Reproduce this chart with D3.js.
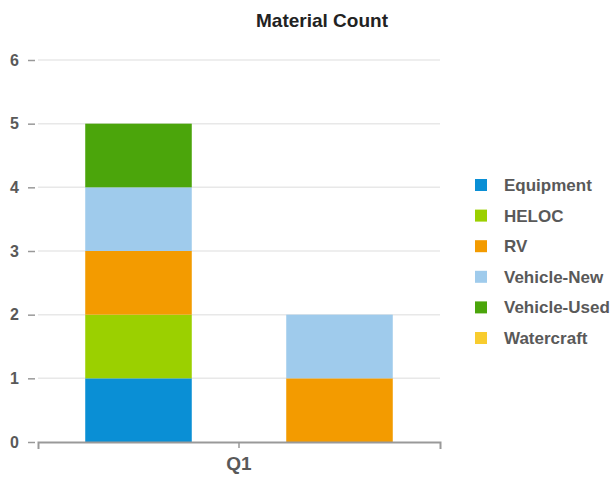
<!DOCTYPE html>
<html>
<head>
<meta charset="utf-8">
<script src="https://cdn.jsdelivr.net/npm/d3@7.9.0/dist/d3.min.js"></script>
<style>
  body { margin: 0; background: #fff; }
  text { font-family: "Liberation Sans", Arial, sans-serif; font-weight: bold; }
  .grid line { stroke: #e8e8e8; stroke-width: 1.5; }
</style>
</head>
<body>
<svg id="chart" width="616" height="480"></svg>
<script>
// categories
const groups = ["Q1"];
const stacks = ["Stack 1", "Stack 2"];
const seriesNames = ["Equipment", "HELOC", "RV", "Vehicle-New", "Vehicle-Used", "Watercraft"];
const seriesColors = ["#0a8fd5", "#9bd000", "#f39b00", "#9fcbec", "#4ba50b", "#f8cc2e"];

// values per series, one per stack
const equipment = [1, 0];
const heloc = [1, 0];
const rv = [1, 1];
const vehicleNew = [1, 1];
const vehicleUsed = [1, 0];
const watercraft = [0, 0];
const yTicks = [0, 1, 2, 3, 4, 5, 6];

const seriesValues = [equipment, heloc, rv, vehicleNew, vehicleUsed, watercraft];

const table = stacks.map((s, i) => {
  const row = { stack: s };
  seriesNames.forEach((n, j) => { row[n] = seriesValues[j][i]; });
  return row;
});

const svg = d3.select("#chart");
const plotLeft = 38, plotRight = 440, plotTop = 60, plotBottom = 442;

const y = d3.scaleLinear().domain([0, 6]).range([plotBottom, plotTop]);
const xGroup = d3.scaleBand().domain(groups).range([plotLeft, plotRight]);
const xStack = d3.scaleBand().domain(stacks).range([plotLeft, plotRight])
  .paddingInner(0.47).paddingOuter(0.235);

// title
svg.append("text")
  .attr("x", 322).attr("y", 27)
  .attr("text-anchor", "middle")
  .attr("font-size", "19px")
  .attr("fill", "#222")
  .text("Material Count");

// gridlines
svg.append("g").attr("class", "grid")
  .selectAll("line")
  .data(yTicks.filter(d => d > 0))
  .join("line")
  .attr("x1", plotLeft).attr("x2", plotRight)
  .attr("y1", d => y(d)).attr("y2", d => y(d));

// y axis: tick marks and labels, no domain line
const yAxis = svg.append("g")
  .attr("transform", `translate(${plotLeft - 3},0)`)
  .call(d3.axisLeft(y).tickValues(yTicks).tickSize(7).tickPadding(9).tickFormat(d3.format("d")));
yAxis.select(".domain").remove();
yAxis.selectAll(".tick line").attr("stroke", "#999").attr("stroke-width", 1.5);
yAxis.selectAll(".tick text")
  .attr("font-size", "16px")
  .attr("fill", "#595959")
  .attr("font-family", "'Liberation Sans', Arial, sans-serif")
  .attr("font-weight", "bold");

// stacked bars
const stacked = d3.stack().keys(seriesNames)(table);
svg.append("g")
  .selectAll("g")
  .data(stacked)
  .join("g")
  .attr("fill", (d, i) => seriesColors[i])
  .selectAll("rect")
  .data(d => d.filter(p => p[1] > p[0]))
  .join("rect")
  .attr("x", d => xStack(d.data.stack))
  .attr("width", xStack.bandwidth())
  .attr("y", d => y(d[1]))
  .attr("height", d => y(d[0]) - y(d[1]));

// x axis
const xAxis = svg.append("g")
  .attr("transform", `translate(0,${plotBottom})`)
  .call(d3.axisBottom(xGroup).tickSize(6).tickSizeOuter(7).tickPadding(9));
xAxis.select(".domain").attr("stroke", "#999").attr("stroke-width", 2);
xAxis.selectAll(".tick line").attr("stroke", "#999").attr("stroke-width", 1.5);
xAxis.selectAll(".tick text")
  .attr("font-size", "19px")
  .attr("fill", "#595959")
  .attr("font-family", "'Liberation Sans', Arial, sans-serif")
  .attr("font-weight", "bold");

// legend
const legend = svg.append("g")
  .selectAll("g")
  .data(seriesNames)
  .join("g")
  .attr("transform", (d, i) => `translate(475,${179 + i * 30.6})`);
legend.append("rect")
  .attr("width", 12).attr("height", 12)
  .attr("fill", (d, i) => seriesColors[i]);
legend.append("text")
  .attr("x", 29).attr("y", 12)
  .attr("font-size", "17px")
  .attr("fill", "#595959")
  .text(d => d);
</script>
</body>
</html>
